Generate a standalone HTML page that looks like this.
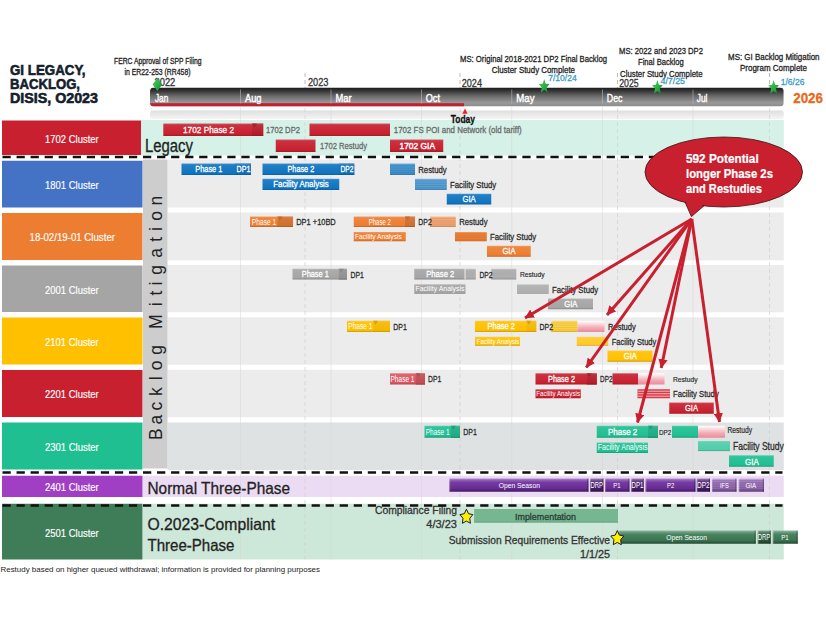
<!DOCTYPE html>
<html><head><meta charset="utf-8"><title>GI Legacy, Backlog, DISIS, O2023</title>
<style>
html,body{margin:0;padding:0;background:#fff;}
body{width:826px;height:620px;overflow:hidden;font-family:"Liberation Sans",sans-serif;}
svg{display:block;}
svg text{font-family:"Liberation Sans",sans-serif;}
</style></head><body>
<svg width="826" height="620" viewBox="0 0 826 620">
<defs>
<linearGradient id="sub" x1="0" y1="0" x2="0" y2="1"><stop offset="0" stop-color="#dedede"/><stop offset="1" stop-color="#f5f5f5"/></linearGradient>
<linearGradient id="tl" x1="0" y1="0" x2="0" y2="1"><stop offset="0" stop-color="#1a1a1a"/><stop offset="0.15" stop-color="#303030"/><stop offset="0.45" stop-color="#6a6a6a"/><stop offset="0.8" stop-color="#989898"/><stop offset="1" stop-color="#8c8c8c"/></linearGradient>
<clipPath id="tlc"><rect x="150" y="87.5" width="633.75" height="19" rx="4"/></clipPath>
<linearGradient id="gs" x1="0" y1="0" x2="1" y2="1"><stop offset="0" stop-color="#4fd45e"/><stop offset="1" stop-color="#0f8c30"/></linearGradient>
<linearGradient id="pink" x1="0" y1="0" x2="0" y2="1"><stop offset="0" stop-color="#ffffff"/><stop offset="0.25" stop-color="#fbdde1"/><stop offset="0.6" stop-color="#f3adb7"/><stop offset="1" stop-color="#ea8a9a"/></linearGradient>
<linearGradient id="g1" x1="0" y1="0" x2="0" y2="1"><stop offset="0" stop-color="#d65a65"/><stop offset="0.12" stop-color="#cc313f"/><stop offset="0.85" stop-color="#c8202f"/><stop offset="1" stop-color="#a01a26"/></linearGradient>
<linearGradient id="g2" x1="0" y1="0" x2="0" y2="1"><stop offset="0" stop-color="#c85861"/><stop offset="0.12" stop-color="#ba2f3b"/><stop offset="0.85" stop-color="#b41d2a"/><stop offset="1" stop-color="#901722"/></linearGradient>
<linearGradient id="g3" x1="0" y1="0" x2="0" y2="1"><stop offset="0" stop-color="#4d98d0"/><stop offset="0.12" stop-color="#227fc5"/><stop offset="0.85" stop-color="#0f74c0"/><stop offset="1" stop-color="#0c5d9a"/></linearGradient>
<linearGradient id="g4" x1="0" y1="0" x2="0" y2="1"><stop offset="0" stop-color="#4d94c9"/><stop offset="0.12" stop-color="#2179bc"/><stop offset="0.85" stop-color="#0e6eb6"/><stop offset="1" stop-color="#0b5892"/></linearGradient>
<linearGradient id="g5" x1="0" y1="0" x2="0" y2="1"><stop offset="0" stop-color="#71adda"/><stop offset="0.12" stop-color="#4e99d1"/><stop offset="0.85" stop-color="#3f90cd"/><stop offset="1" stop-color="#3273a4"/></linearGradient>
<linearGradient id="g6" x1="0" y1="0" x2="0" y2="1"><stop offset="0" stop-color="#7fb5de"/><stop offset="0.12" stop-color="#5fa3d6"/><stop offset="0.85" stop-color="#529bd2"/><stop offset="1" stop-color="#427ca8"/></linearGradient>
<linearGradient id="g7" x1="0" y1="0" x2="0" y2="1"><stop offset="0" stop-color="#f29f67"/><stop offset="0.12" stop-color="#ee8741"/><stop offset="0.85" stop-color="#ed7d31"/><stop offset="1" stop-color="#be6427"/></linearGradient>
<linearGradient id="g8" x1="0" y1="0" x2="0" y2="1"><stop offset="0" stop-color="#dd9462"/><stop offset="0.12" stop-color="#d5793c"/><stop offset="0.85" stop-color="#d16e2b"/><stop offset="1" stop-color="#a75822"/></linearGradient>
<linearGradient id="g9" x1="0" y1="0" x2="0" y2="1"><stop offset="0" stop-color="#f5bc94"/><stop offset="0.12" stop-color="#f3ab7a"/><stop offset="0.85" stop-color="#f2a46f"/><stop offset="1" stop-color="#c28359"/></linearGradient>
<linearGradient id="g10" x1="0" y1="0" x2="0" y2="1"><stop offset="0" stop-color="#bcbcbc"/><stop offset="0.12" stop-color="#acacac"/><stop offset="0.85" stop-color="#a5a5a5"/><stop offset="1" stop-color="#848484"/></linearGradient>
<linearGradient id="g11" x1="0" y1="0" x2="0" y2="1"><stop offset="0" stop-color="#aeaeae"/><stop offset="0.12" stop-color="#9a9a9a"/><stop offset="0.85" stop-color="#919191"/><stop offset="1" stop-color="#747474"/></linearGradient>
<linearGradient id="g12" x1="0" y1="0" x2="0" y2="1"><stop offset="0" stop-color="#c6c6c6"/><stop offset="0.12" stop-color="#b8b8b8"/><stop offset="0.85" stop-color="#b2b2b2"/><stop offset="1" stop-color="#8e8e8e"/></linearGradient>
<linearGradient id="g13" x1="0" y1="0" x2="0" y2="1"><stop offset="0" stop-color="#cacaca"/><stop offset="0.12" stop-color="#bdbdbd"/><stop offset="0.85" stop-color="#b7b7b7"/><stop offset="1" stop-color="#929292"/></linearGradient>
<linearGradient id="g14" x1="0" y1="0" x2="0" y2="1"><stop offset="0" stop-color="#ffd042"/><stop offset="0.12" stop-color="#ffc514"/><stop offset="0.85" stop-color="#ffc000"/><stop offset="1" stop-color="#cc9a00"/></linearGradient>
<linearGradient id="g15" x1="0" y1="0" x2="0" y2="1"><stop offset="0" stop-color="#f8ca42"/><stop offset="0.12" stop-color="#f6be14"/><stop offset="0.85" stop-color="#f5b800"/><stop offset="1" stop-color="#c49300"/></linearGradient>
<linearGradient id="g16" x1="0" y1="0" x2="0" y2="1"><stop offset="0" stop-color="#ffdc72"/><stop offset="0.12" stop-color="#ffd44f"/><stop offset="0.85" stop-color="#ffd040"/><stop offset="1" stop-color="#cca633"/></linearGradient>
<linearGradient id="g17" x1="0" y1="0" x2="0" y2="1"><stop offset="0" stop-color="#ffd75e"/><stop offset="0.12" stop-color="#ffcd37"/><stop offset="0.85" stop-color="#ffc926"/><stop offset="1" stop-color="#cca11e"/></linearGradient>
<linearGradient id="g18" x1="0" y1="0" x2="0" y2="1"><stop offset="0" stop-color="#e58189"/><stop offset="0.12" stop-color="#df626c"/><stop offset="0.85" stop-color="#dc5560"/><stop offset="1" stop-color="#b0444d"/></linearGradient>
<linearGradient id="g19" x1="0" y1="0" x2="0" y2="1"><stop offset="0" stop-color="#d27a80"/><stop offset="0.12" stop-color="#c75961"/><stop offset="0.85" stop-color="#c24b54"/><stop offset="1" stop-color="#9b3c43"/></linearGradient>
<linearGradient id="g20" x1="0" y1="0" x2="0" y2="1"><stop offset="0" stop-color="#59d0ae"/><stop offset="0.12" stop-color="#30c49b"/><stop offset="0.85" stop-color="#1fbf92"/><stop offset="1" stop-color="#199975"/></linearGradient>
<linearGradient id="g21" x1="0" y1="0" x2="0" y2="1"><stop offset="0" stop-color="#57c2a3"/><stop offset="0.12" stop-color="#2eb28d"/><stop offset="0.85" stop-color="#1cac83"/><stop offset="1" stop-color="#168a69"/></linearGradient>
<linearGradient id="g22" x1="0" y1="0" x2="0" y2="1"><stop offset="0" stop-color="#7edac0"/><stop offset="0.12" stop-color="#5ed1b1"/><stop offset="0.85" stop-color="#50cdaa"/><stop offset="1" stop-color="#40a488"/></linearGradient>
<linearGradient id="g23" x1="0" y1="0" x2="0" y2="1"><stop offset="0" stop-color="#b08dcb"/><stop offset="0.14" stop-color="#8f5eb5"/><stop offset="0.3" stop-color="#773aa5"/><stop offset="0.75" stop-color="#672c93"/><stop offset="1" stop-color="#411c5d"/></linearGradient>
<linearGradient id="g24" x1="0" y1="0" x2="0" y2="1"><stop offset="0" stop-color="#9d84b2"/><stop offset="0.14" stop-color="#745092"/><stop offset="0.3" stop-color="#562a7a"/><stop offset="0.75" stop-color="#471d6a"/><stop offset="1" stop-color="#2d1243"/></linearGradient>
<linearGradient id="g25" x1="0" y1="0" x2="0" y2="1"><stop offset="0" stop-color="#c8afda"/><stop offset="0.14" stop-color="#b18ecb"/><stop offset="0.3" stop-color="#a075bf"/><stop offset="0.75" stop-color="#8f65ad"/><stop offset="1" stop-color="#5a406d"/></linearGradient>
<linearGradient id="g26" x1="0" y1="0" x2="0" y2="1"><stop offset="0" stop-color="#95b8a3"/><stop offset="0.14" stop-color="#699a7d"/><stop offset="0.3" stop-color="#498460"/><stop offset="0.75" stop-color="#3a7351"/><stop offset="1" stop-color="#254933"/></linearGradient>
<linearGradient id="g27" x1="0" y1="0" x2="0" y2="1"><stop offset="0" stop-color="#8da697"/><stop offset="0.14" stop-color="#5d816c"/><stop offset="0.3" stop-color="#39664b"/><stop offset="0.75" stop-color="#2b563d"/><stop offset="1" stop-color="#1b3726"/></linearGradient>
<marker id="ah" viewBox="0 0 10 10" refX="9.5" refY="5" markerWidth="3.1" markerHeight="3.1" orient="auto-start-reverse"><path d="M0 0 L10 5 L0 10 Z" fill="#c8202f"/></marker>
</defs>
<rect x="0.00" y="0.00" width="826.00" height="620.00" fill="#ffffff" />
<rect x="141.00" y="120.00" width="642.75" height="35.50" fill="#d5f1e8" />
<rect x="167.50" y="159.50" width="616.25" height="48.00" fill="#ececec" />
<rect x="167.50" y="212.50" width="616.25" height="47.80" fill="#ececec" />
<rect x="167.50" y="265.00" width="616.25" height="47.30" fill="#ececec" />
<rect x="167.50" y="317.30" width="616.25" height="47.40" fill="#ececec" />
<rect x="167.50" y="369.80" width="616.25" height="47.40" fill="#ececec" />
<rect x="167.50" y="422.50" width="616.25" height="47.50" fill="#dfe2e2" />
<rect x="143.00" y="159.50" width="24.50" height="309.00" fill="#cdcdcd" />
<rect x="143.00" y="475.75" width="640.75" height="21.25" fill="#ecdcf3" />
<rect x="143.00" y="503.75" width="640.75" height="55.75" fill="#cde7d8" />
<rect x="150" y="110.5" width="633.75" height="8.5" rx="3" fill="url(#sub)"/>
<line x1="240.5" y1="107" x2="240.5" y2="559.5" stroke="#d6d6d6" stroke-width="0.8" opacity="0.6"/>
<line x1="331" y1="107" x2="331" y2="559.5" stroke="#d6d6d6" stroke-width="0.8" opacity="0.6"/>
<line x1="421.5" y1="107" x2="421.5" y2="559.5" stroke="#d6d6d6" stroke-width="0.8" opacity="0.6"/>
<line x1="511.75" y1="107" x2="511.75" y2="559.5" stroke="#d6d6d6" stroke-width="0.8" opacity="0.6"/>
<line x1="602.5" y1="107" x2="602.5" y2="559.5" stroke="#d6d6d6" stroke-width="0.8" opacity="0.6"/>
<line x1="693" y1="107" x2="693" y2="559.5" stroke="#d6d6d6" stroke-width="0.8" opacity="0.6"/>
<line x1="305" y1="108" x2="305" y2="559.5" stroke="#cdcdcd" stroke-width="0.9" stroke-dasharray="4 3" opacity="0.7"/>
<line x1="305" y1="73" x2="305" y2="88" stroke="#b4b4b4" stroke-width="0.9" stroke-dasharray="4 3"/>
<line x1="460" y1="108" x2="460" y2="559.5" stroke="#cdcdcd" stroke-width="0.9" stroke-dasharray="4 3" opacity="0.7"/>
<line x1="460" y1="73" x2="460" y2="88" stroke="#b4b4b4" stroke-width="0.9" stroke-dasharray="4 3"/>
<line x1="617.5" y1="108" x2="617.5" y2="559.5" stroke="#cdcdcd" stroke-width="0.9" stroke-dasharray="4 3" opacity="0.7"/>
<line x1="617.5" y1="73" x2="617.5" y2="88" stroke="#b4b4b4" stroke-width="0.9" stroke-dasharray="4 3"/>
<line x1="769.5" y1="108" x2="769.5" y2="559.5" stroke="#cdcdcd" stroke-width="0.9" stroke-dasharray="4 3" opacity="0.7"/>
<line x1="769.5" y1="73" x2="769.5" y2="88" stroke="#b4b4b4" stroke-width="0.9" stroke-dasharray="4 3"/>
<g clip-path="url(#tlc)">
<rect x="150.00" y="87.50" width="633.75" height="19.00" fill="url(#tl)" />
<rect x="150.00" y="103.20" width="314.00" height="3.30" fill="#c3202f" />
<line x1="240.5" y1="89.5" x2="240.5" y2="103.5" stroke="#bfbfbf" stroke-width="0.8" opacity="0.7"/>
<line x1="331" y1="89.5" x2="331" y2="103.5" stroke="#bfbfbf" stroke-width="0.8" opacity="0.7"/>
<line x1="421.5" y1="89.5" x2="421.5" y2="103.5" stroke="#bfbfbf" stroke-width="0.8" opacity="0.7"/>
<line x1="511.75" y1="89.5" x2="511.75" y2="103.5" stroke="#bfbfbf" stroke-width="0.8" opacity="0.7"/>
<line x1="602.5" y1="89.5" x2="602.5" y2="103.5" stroke="#bfbfbf" stroke-width="0.8" opacity="0.7"/>
<line x1="693" y1="89.5" x2="693" y2="103.5" stroke="#bfbfbf" stroke-width="0.8" opacity="0.7"/>
</g>
<text x="155.00" y="101.50" font-size="10.5" fill="#ffffff" font-weight="normal" textLength="13.30" lengthAdjust="spacingAndGlyphs" stroke="#ffffff" stroke-width="0.4" >Jan</text>
<text x="245.00" y="101.50" font-size="10.5" fill="#ffffff" font-weight="normal" textLength="16.50" lengthAdjust="spacingAndGlyphs" stroke="#ffffff" stroke-width="0.4" >Aug</text>
<text x="335.50" y="101.50" font-size="10.5" fill="#ffffff" font-weight="normal" textLength="16.00" lengthAdjust="spacingAndGlyphs" stroke="#ffffff" stroke-width="0.4" >Mar</text>
<text x="425.75" y="101.50" font-size="10.5" fill="#ffffff" font-weight="normal" textLength="14.25" lengthAdjust="spacingAndGlyphs" stroke="#ffffff" stroke-width="0.4" >Oct</text>
<text x="516.25" y="101.50" font-size="10.5" fill="#ffffff" font-weight="normal" textLength="18.25" lengthAdjust="spacingAndGlyphs" stroke="#ffffff" stroke-width="0.4" >May</text>
<text x="606.75" y="101.50" font-size="10.5" fill="#ffffff" font-weight="normal" textLength="15.75" lengthAdjust="spacingAndGlyphs" stroke="#ffffff" stroke-width="0.4" >Dec</text>
<text x="696.75" y="101.50" font-size="10.5" fill="#ffffff" font-weight="normal" textLength="10.75" lengthAdjust="spacingAndGlyphs" stroke="#ffffff" stroke-width="0.4" >Jul</text>
<text x="154.50" y="86.40" font-size="10.6" fill="#333" font-weight="normal" textLength="20.80" lengthAdjust="spacingAndGlyphs" stroke="#333" stroke-width="0.3" >2022</text>
<text x="308.00" y="86.40" font-size="10.6" fill="#333" font-weight="normal" textLength="20.50" lengthAdjust="spacingAndGlyphs" stroke="#333" stroke-width="0.3" >2023</text>
<text x="461.75" y="86.70" font-size="10.6" fill="#333" font-weight="normal" textLength="20.25" lengthAdjust="spacingAndGlyphs" stroke="#333" stroke-width="0.3" >2024</text>
<text x="619.25" y="86.70" font-size="10.6" fill="#333" font-weight="normal" textLength="19.50" lengthAdjust="spacingAndGlyphs" stroke="#333" stroke-width="0.3" >2025</text>
<text x="793.25" y="103.00" font-size="15" fill="#e8681c" font-weight="bold" textLength="29.75" lengthAdjust="spacingAndGlyphs" stroke="#e8681c" stroke-width="0.3" >2026</text>
<path d="M465 108.6 L467.6 113.8 L462.4 113.8 Z" fill="#e8202a"/>
<text x="450.75" y="122.80" font-size="10" fill="#111" font-weight="bold" textLength="24.25" lengthAdjust="spacingAndGlyphs" stroke="#111" stroke-width="0.3" >Today</text>
<text x="114.00" y="64.10" font-size="8.6" fill="#222" font-weight="normal" textLength="87.50" lengthAdjust="spacingAndGlyphs" stroke="#222" stroke-width="0.3" >FERC Approval of SPP Filing</text>
<text x="124.50" y="74.90" font-size="8.6" fill="#222" font-weight="normal" textLength="66.00" lengthAdjust="spacingAndGlyphs" stroke="#222" stroke-width="0.3" >in ER22-253 (RR458)</text>
<text x="460.00" y="62.17" font-size="9.5" fill="#222" font-weight="normal" textLength="147.00" lengthAdjust="spacingAndGlyphs" stroke="#222" stroke-width="0.3" >MS: Original 2018-2021 DP2 Final Backlog</text>
<text x="491.75" y="73.42" font-size="9.5" fill="#222" font-weight="normal" textLength="83.25" lengthAdjust="spacingAndGlyphs" stroke="#222" stroke-width="0.3" >Cluster Study Complete</text>
<text x="548.25" y="81.42" font-size="9.5" fill="#3a9cc4" font-weight="normal" textLength="28.50" lengthAdjust="spacingAndGlyphs" stroke="#3a9cc4" stroke-width="0.3" >7/10/24</text>
<text x="619.00" y="54.42" font-size="9.5" fill="#222" font-weight="normal" textLength="84.00" lengthAdjust="spacingAndGlyphs" stroke="#222" stroke-width="0.3" >MS: 2022 and 2023 DP2</text>
<text x="638.00" y="65.17" font-size="9.5" fill="#222" font-weight="normal" textLength="45.75" lengthAdjust="spacingAndGlyphs" stroke="#222" stroke-width="0.3" >Final Backlog</text>
<text x="620.00" y="77.42" font-size="9.5" fill="#222" font-weight="normal" textLength="82.50" lengthAdjust="spacingAndGlyphs" stroke="#222" stroke-width="0.3" >Cluster Study Complete</text>
<text x="660.50" y="84.42" font-size="9.5" fill="#3a9cc4" font-weight="normal" textLength="24.50" lengthAdjust="spacingAndGlyphs" stroke="#3a9cc4" stroke-width="0.3" >4/7/25</text>
<text x="728.00" y="60.17" font-size="9.5" fill="#222" font-weight="normal" textLength="91.50" lengthAdjust="spacingAndGlyphs" stroke="#222" stroke-width="0.3" >MS: GI Backlog Mitigation</text>
<text x="740.00" y="71.42" font-size="9.5" fill="#222" font-weight="normal" textLength="67.00" lengthAdjust="spacingAndGlyphs" stroke="#222" stroke-width="0.3" >Program Complete</text>
<text x="780.75" y="85.17" font-size="9.5" fill="#3a9cc4" font-weight="normal" textLength="23.75" lengthAdjust="spacingAndGlyphs" stroke="#3a9cc4" stroke-width="0.3" >1/6/26</text>
<polygon points="544.20,78.90 545.70,83.68 549.60,84.09 546.63,87.46 547.54,92.50 544.20,89.80 540.86,92.50 541.77,87.46 538.80,84.09 542.70,83.68" fill="url(#gs)" />
<polygon points="657.40,80.00 658.90,84.78 662.80,85.19 659.83,88.56 660.74,93.60 657.40,90.90 654.06,93.60 654.97,88.56 652.00,85.19 655.90,84.78" fill="url(#gs)" />
<polygon points="773.60,80.00 775.10,84.78 779.00,85.19 776.03,88.56 776.94,93.60 773.60,90.90 770.26,93.60 771.17,88.56 768.20,85.19 772.10,84.78" fill="url(#gs)" />
<path d="M157.4 78 L162.2 84.5 L157.4 91 L152.6 84.5 Z" fill="url(#gs)"/>
<text x="10.00" y="75.00" font-size="15" fill="#13202b" font-weight="bold" textLength="75.50" lengthAdjust="spacingAndGlyphs" stroke="#13202b" stroke-width="0.6" >GI LEGACY,</text>
<text x="10.00" y="89.00" font-size="15" fill="#13202b" font-weight="bold" textLength="70.00" lengthAdjust="spacingAndGlyphs" stroke="#13202b" stroke-width="0.6" >BACKLOG,</text>
<text x="10.00" y="102.70" font-size="15" fill="#13202b" font-weight="bold" textLength="88.00" lengthAdjust="spacingAndGlyphs" stroke="#13202b" stroke-width="0.6" >DISIS, O2023</text>
<rect x="2.00" y="120.50" width="139.00" height="34.50" fill="#c8202f" />
<text x="45.00" y="142.65" font-size="10.3" fill="#ffffff" font-weight="normal" textLength="53.75" lengthAdjust="spacingAndGlyphs" stroke="#ffffff" stroke-width="0.15" >1702 Cluster</text>
<rect x="2.00" y="160.75" width="140.50" height="46.75" fill="#4472c4" />
<text x="45.00" y="189.03" font-size="10.3" fill="#ffffff" font-weight="normal" textLength="53.75" lengthAdjust="spacingAndGlyphs" stroke="#ffffff" stroke-width="0.15" >1801 Cluster</text>
<rect x="2.00" y="213.00" width="140.50" height="47.00" fill="#ed7d31" />
<text x="29.50" y="241.40" font-size="10.3" fill="#ffffff" font-weight="normal" textLength="85.50" lengthAdjust="spacingAndGlyphs" stroke="#ffffff" stroke-width="0.15" >18-02/19-01 Cluster</text>
<rect x="2.00" y="265.50" width="140.50" height="46.50" fill="#a5a5a5" />
<text x="45.00" y="293.65" font-size="10.3" fill="#ffffff" font-weight="normal" textLength="53.75" lengthAdjust="spacingAndGlyphs" stroke="#ffffff" stroke-width="0.15" >2001 Cluster</text>
<rect x="2.00" y="317.50" width="140.50" height="47.00" fill="#ffc000" />
<text x="45.00" y="345.90" font-size="10.3" fill="#ffffff" font-weight="normal" textLength="53.75" lengthAdjust="spacingAndGlyphs" stroke="#ffffff" stroke-width="0.15" >2101 Cluster</text>
<rect x="2.00" y="370.00" width="140.50" height="47.00" fill="#c8202f" />
<text x="45.00" y="398.40" font-size="10.3" fill="#ffffff" font-weight="normal" textLength="53.75" lengthAdjust="spacingAndGlyphs" stroke="#ffffff" stroke-width="0.15" >2201 Cluster</text>
<rect x="2.00" y="422.50" width="140.50" height="47.00" fill="#1fbf92" />
<text x="45.00" y="450.90" font-size="10.3" fill="#ffffff" font-weight="normal" textLength="53.75" lengthAdjust="spacingAndGlyphs" stroke="#ffffff" stroke-width="0.15" >2301 Cluster</text>
<rect x="2.00" y="475.75" width="140.50" height="21.25" fill="#a03fc4" />
<text x="45.00" y="491.27" font-size="10.3" fill="#ffffff" font-weight="normal" textLength="53.75" lengthAdjust="spacingAndGlyphs" stroke="#ffffff" stroke-width="0.15" >2401 Cluster</text>
<rect x="2.00" y="503.75" width="140.50" height="55.75" fill="#3f7d58" />
<text x="45.00" y="536.52" font-size="10.3" fill="#ffffff" font-weight="normal" textLength="53.75" lengthAdjust="spacingAndGlyphs" stroke="#ffffff" stroke-width="0.15" >2501 Cluster</text>
<text x="145.00" y="152.00" font-size="17.5" fill="#222" font-weight="normal" textLength="48.00" lengthAdjust="spacingAndGlyphs" stroke="#222" stroke-width="0.3" >Legacy</text>
<text x="147.50" y="493.75" font-size="16.5" fill="#222" font-weight="normal" textLength="142.50" lengthAdjust="spacingAndGlyphs" stroke="#222" stroke-width="0.3" >Normal Three-Phase</text>
<text x="147.50" y="530.00" font-size="16.5" fill="#222" font-weight="normal" textLength="127.50" lengthAdjust="spacingAndGlyphs" stroke="#222" stroke-width="0.3" >O.2023-Compliant</text>
<text x="147.50" y="550.75" font-size="16.5" fill="#222" font-weight="normal" textLength="87.00" lengthAdjust="spacingAndGlyphs" stroke="#222" stroke-width="0.3" >Three-Phase</text>
<text transform="translate(162,0) rotate(-90)" font-size="17.5" fill="#222" x="-440.04 -424.56 -410.38 -395.88 -380.34 -370.26 -354.87 -329.09 -306.34 -295.43 -285.44 -274.87 -257.87 -241.83 -230.94 -220.87 -205.56" y="0">BacklogMitigation</text>
<rect x="163.30" y="123.50" width="99.90" height="12.50" fill="url(#g1)" />
<rect x="252.00" y="123.50" width="11.20" height="12.50" fill="url(#g2)" />
<path d="M252.00 123.50 L257.00 123.50 L254.50 127.50 Z" fill="#9c1925" opacity="0.7"/>
<text x="183.00" y="133.22" font-size="9.5" fill="#ffffff" font-weight="normal" textLength="51.00" lengthAdjust="spacingAndGlyphs" stroke="#ffffff" stroke-width="0.3" >1702 Phase 2</text>
<rect x="309.50" y="123.50" width="80.50" height="12.50" fill="url(#g1)" />
<rect x="275.75" y="139.50" width="39.75" height="12.50" fill="url(#g1)" />
<rect x="390.00" y="139.50" width="53.25" height="12.50" fill="url(#g1)" />
<text x="399.50" y="149.40" font-size="9.6" fill="#fff" font-weight="normal" textLength="35.50" lengthAdjust="spacingAndGlyphs" stroke="#fff" stroke-width="0.45" >1702 GIA</text>
<rect x="181.50" y="163.50" width="69.50" height="11.50" fill="url(#g3)" />
<rect x="235.00" y="163.50" width="16.00" height="11.50" fill="url(#g4)" />
<text x="195.30" y="172.24" font-size="9" fill="#ffffff" font-weight="normal" textLength="27.00" lengthAdjust="spacingAndGlyphs" stroke="#ffffff" stroke-width="0.3" >Phase 1</text>
<text x="236.60" y="172.24" font-size="9" fill="#ffffff" font-weight="normal" textLength="13.90" lengthAdjust="spacingAndGlyphs" stroke="#ffffff" stroke-width="0.3" >DP1</text>
<rect x="262.50" y="163.50" width="91.75" height="11.50" fill="url(#g3)" />
<rect x="339.00" y="163.50" width="15.25" height="11.50" fill="url(#g4)" />
<text x="287.50" y="172.24" font-size="9" fill="#ffffff" font-weight="normal" textLength="26.75" lengthAdjust="spacingAndGlyphs" stroke="#ffffff" stroke-width="0.3" >Phase 2</text>
<text x="340.50" y="172.24" font-size="9" fill="#ffffff" font-weight="normal" textLength="13.00" lengthAdjust="spacingAndGlyphs" stroke="#ffffff" stroke-width="0.3" >DP2</text>
<rect x="262.50" y="178.75" width="76.75" height="11.25" fill="url(#g3)" />
<text x="273.25" y="187.24" font-size="9" fill="#ffffff" font-weight="normal" textLength="55.50" lengthAdjust="spacingAndGlyphs" stroke="#ffffff" stroke-width="0.3" >Facility Analysis</text>
<rect x="390.00" y="163.50" width="25.00" height="11.50" fill="url(#g5)" />
<line x1="390.00" y1="165.80" x2="415.00" y2="165.80" stroke="#377fb4" stroke-width="0.7" opacity="0.8"/>
<line x1="390.00" y1="168.10" x2="415.00" y2="168.10" stroke="#377fb4" stroke-width="0.7" opacity="0.8"/>
<line x1="390.00" y1="170.40" x2="415.00" y2="170.40" stroke="#377fb4" stroke-width="0.7" opacity="0.8"/>
<line x1="390.00" y1="172.70" x2="415.00" y2="172.70" stroke="#377fb4" stroke-width="0.7" opacity="0.8"/>
<rect x="415.00" y="178.75" width="31.75" height="11.25" fill="url(#g6)" />
<line x1="415.00" y1="181.00" x2="446.75" y2="181.00" stroke="#4888b9" stroke-width="0.7" opacity="0.8"/>
<line x1="415.00" y1="183.25" x2="446.75" y2="183.25" stroke="#4888b9" stroke-width="0.7" opacity="0.8"/>
<line x1="415.00" y1="185.50" x2="446.75" y2="185.50" stroke="#4888b9" stroke-width="0.7" opacity="0.8"/>
<line x1="415.00" y1="187.75" x2="446.75" y2="187.75" stroke="#4888b9" stroke-width="0.7" opacity="0.8"/>
<rect x="446.75" y="193.75" width="44.50" height="10.75" fill="url(#g3)" />
<text x="462.50" y="202.04" font-size="9" fill="#ffffff" font-weight="normal" textLength="13.25" lengthAdjust="spacingAndGlyphs" stroke="#ffffff" stroke-width="0.3" >GIA</text>
<rect x="250.00" y="216.50" width="43.00" height="10.50" fill="url(#g7)" />
<rect x="277.50" y="216.50" width="15.50" height="10.50" fill="url(#g8)" />
<path d="M277.50 216.50 L282.50 216.50 L280.00 220.50 Z" fill="#b96226" opacity="0.7"/>
<text x="251.75" y="224.56" font-size="8.5" fill="#ffffff" font-weight="normal" textLength="24.50" lengthAdjust="spacingAndGlyphs"  >Phase 1</text>
<rect x="353.75" y="216.50" width="61.25" height="10.50" fill="url(#g7)" />
<rect x="405.00" y="216.50" width="10.00" height="10.50" fill="url(#g8)" />
<path d="M405.00 216.50 L410.00 216.50 L407.50 220.50 Z" fill="#b96226" opacity="0.7"/>
<text x="368.75" y="224.56" font-size="8.5" fill="#ffffff" font-weight="normal" textLength="22.00" lengthAdjust="spacingAndGlyphs"  >Phase 2</text>
<rect x="430.00" y="216.50" width="25.75" height="10.50" fill="url(#g9)" />
<line x1="430.00" y1="218.60" x2="455.75" y2="218.60" stroke="#d59062" stroke-width="0.7" opacity="0.8"/>
<line x1="430.00" y1="220.70" x2="455.75" y2="220.70" stroke="#d59062" stroke-width="0.7" opacity="0.8"/>
<line x1="430.00" y1="222.80" x2="455.75" y2="222.80" stroke="#d59062" stroke-width="0.7" opacity="0.8"/>
<line x1="430.00" y1="224.90" x2="455.75" y2="224.90" stroke="#d59062" stroke-width="0.7" opacity="0.8"/>
<rect x="353.75" y="232.00" width="52.00" height="9.25" fill="url(#g7)" />
<text x="355.00" y="239.00" font-size="7.5" fill="#ffffff" font-weight="normal" textLength="46.75" lengthAdjust="spacingAndGlyphs"  >Facility Analysis</text>
<rect x="455.00" y="232.00" width="31.75" height="9.25" fill="url(#g7)" />
<line x1="455.00" y1="233.85" x2="486.75" y2="233.85" stroke="#d16e2b" stroke-width="0.7" opacity="0.8"/>
<line x1="455.00" y1="235.70" x2="486.75" y2="235.70" stroke="#d16e2b" stroke-width="0.7" opacity="0.8"/>
<line x1="455.00" y1="237.55" x2="486.75" y2="237.55" stroke="#d16e2b" stroke-width="0.7" opacity="0.8"/>
<line x1="455.00" y1="239.40" x2="486.75" y2="239.40" stroke="#d16e2b" stroke-width="0.7" opacity="0.8"/>
<rect x="487.00" y="245.75" width="43.75" height="11.00" fill="url(#g7)" />
<text x="502.50" y="254.14" font-size="9" fill="#ffffff" font-weight="normal" textLength="13.00" lengthAdjust="spacingAndGlyphs" stroke="#ffffff" stroke-width="0.3" >GIA</text>
<rect x="292.50" y="268.75" width="54.50" height="10.75" fill="url(#g10)" />
<rect x="338.75" y="268.75" width="8.25" height="10.75" fill="url(#g11)" />
<path d="M338.75 268.75 L343.75 268.75 L341.25 272.75 Z" fill="#818181" opacity="0.7"/>
<text x="301.75" y="277.04" font-size="9" fill="#ffffff" font-weight="normal" textLength="27.00" lengthAdjust="spacingAndGlyphs" stroke="#ffffff" stroke-width="0.3" >Phase 1</text>
<rect x="414.25" y="268.75" width="50.75" height="10.75" fill="url(#g10)" />
<rect x="465.00" y="268.75" width="10.75" height="10.75" fill="url(#g12)" />
<line x1="465.00" y1="270.90" x2="475.75" y2="270.90" stroke="#9d9d9d" stroke-width="0.7" opacity="0.8"/>
<line x1="465.00" y1="273.05" x2="475.75" y2="273.05" stroke="#9d9d9d" stroke-width="0.7" opacity="0.8"/>
<line x1="465.00" y1="275.20" x2="475.75" y2="275.20" stroke="#9d9d9d" stroke-width="0.7" opacity="0.8"/>
<line x1="465.00" y1="277.35" x2="475.75" y2="277.35" stroke="#9d9d9d" stroke-width="0.7" opacity="0.8"/>
<line x1="465" y1="268.75" x2="465" y2="279.5" stroke="#fff" stroke-width="0.8"/>
<text x="426.25" y="277.04" font-size="9" fill="#ffffff" font-weight="normal" textLength="28.00" lengthAdjust="spacingAndGlyphs" stroke="#ffffff" stroke-width="0.3" >Phase 2</text>
<rect x="491.25" y="268.75" width="25.00" height="10.75" fill="url(#g12)" />
<line x1="491.25" y1="270.90" x2="516.25" y2="270.90" stroke="#9d9d9d" stroke-width="0.7" opacity="0.8"/>
<line x1="491.25" y1="273.05" x2="516.25" y2="273.05" stroke="#9d9d9d" stroke-width="0.7" opacity="0.8"/>
<line x1="491.25" y1="275.20" x2="516.25" y2="275.20" stroke="#9d9d9d" stroke-width="0.7" opacity="0.8"/>
<line x1="491.25" y1="277.35" x2="516.25" y2="277.35" stroke="#9d9d9d" stroke-width="0.7" opacity="0.8"/>
<rect x="414.25" y="284.25" width="51.25" height="9.50" fill="url(#g10)" />
<text x="415.50" y="291.48" font-size="8" fill="#ffffff" font-weight="normal" textLength="49.00" lengthAdjust="spacingAndGlyphs"  >Facility Analysis</text>
<rect x="517.00" y="284.25" width="31.75" height="9.50" fill="url(#g13)" />
<line x1="517.00" y1="286.15" x2="548.75" y2="286.15" stroke="#a1a1a1" stroke-width="0.7" opacity="0.8"/>
<line x1="517.00" y1="288.05" x2="548.75" y2="288.05" stroke="#a1a1a1" stroke-width="0.7" opacity="0.8"/>
<line x1="517.00" y1="289.95" x2="548.75" y2="289.95" stroke="#a1a1a1" stroke-width="0.7" opacity="0.8"/>
<line x1="517.00" y1="291.85" x2="548.75" y2="291.85" stroke="#a1a1a1" stroke-width="0.7" opacity="0.8"/>
<rect x="548.00" y="298.50" width="45.00" height="10.75" fill="url(#g10)" />
<text x="564.25" y="306.74" font-size="9" fill="#ffffff" font-weight="normal" textLength="13.25" lengthAdjust="spacingAndGlyphs" stroke="#ffffff" stroke-width="0.3" >GIA</text>
<rect x="347.00" y="320.75" width="43.00" height="11.25" fill="url(#g14)" />
<rect x="373.00" y="320.75" width="17.00" height="11.25" fill="url(#g15)" />
<path d="M373.00 320.75 L378.00 320.75 L375.50 324.75 Z" fill="#c79600" opacity="0.7"/>
<text x="348.25" y="329.06" font-size="8.5" fill="#ffffff" font-weight="normal" textLength="24.25" lengthAdjust="spacingAndGlyphs"  >Phase 1</text>
<rect x="475.00" y="320.75" width="61.25" height="11.25" fill="url(#g14)" />
<rect x="526.25" y="320.75" width="10.00" height="11.25" fill="url(#g15)" />
<path d="M526.25 320.75 L531.25 320.75 L528.75 324.75 Z" fill="#c79600" opacity="0.7"/>
<text x="487.50" y="329.24" font-size="9" fill="#ffffff" font-weight="normal" textLength="27.50" lengthAdjust="spacingAndGlyphs" stroke="#ffffff" stroke-width="0.3" >Phase 2</text>
<rect x="551.25" y="320.75" width="26.25" height="11.25" fill="url(#g16)" />
<line x1="551.25" y1="323.00" x2="577.50" y2="323.00" stroke="#e0b738" stroke-width="0.7" opacity="0.8"/>
<line x1="551.25" y1="325.25" x2="577.50" y2="325.25" stroke="#e0b738" stroke-width="0.7" opacity="0.8"/>
<line x1="551.25" y1="327.50" x2="577.50" y2="327.50" stroke="#e0b738" stroke-width="0.7" opacity="0.8"/>
<line x1="551.25" y1="329.75" x2="577.50" y2="329.75" stroke="#e0b738" stroke-width="0.7" opacity="0.8"/>
<rect x="577.50" y="320.75" width="27.00" height="11.25" fill="url(#pink)" />
<rect x="475.00" y="336.75" width="45.00" height="9.00" fill="url(#g14)" />
<text x="476.75" y="343.50" font-size="7.5" fill="#ffffff" font-weight="normal" textLength="42.50" lengthAdjust="spacingAndGlyphs"  >Facility Analysis</text>
<rect x="576.75" y="336.75" width="31.50" height="9.00" fill="url(#g17)" />
<rect x="607.50" y="350.50" width="45.00" height="11.25" fill="url(#g14)" />
<text x="623.75" y="358.94" font-size="9" fill="#ffffff" font-weight="normal" textLength="13.25" lengthAdjust="spacingAndGlyphs" stroke="#ffffff" stroke-width="0.3" >GIA</text>
<rect x="390.00" y="373.25" width="35.00" height="11.25" fill="url(#g18)" />
<rect x="415.75" y="373.25" width="9.25" height="11.25" fill="url(#g19)" />
<path d="M415.75 373.25 L420.75 373.25 L418.25 377.25 Z" fill="#ac424b" opacity="0.7"/>
<text x="390.50" y="381.56" font-size="8.5" fill="#ffffff" font-weight="normal" textLength="24.00" lengthAdjust="spacingAndGlyphs"  >Phase 1</text>
<rect x="535.50" y="373.25" width="61.25" height="11.25" fill="url(#g1)" />
<rect x="586.75" y="373.25" width="10.00" height="11.25" fill="url(#g2)" />
<path d="M586.75 373.25 L591.75 373.25 L589.25 377.25 Z" fill="#9c1925" opacity="0.7"/>
<text x="548.00" y="381.74" font-size="9" fill="#ffffff" font-weight="normal" textLength="27.00" lengthAdjust="spacingAndGlyphs" stroke="#ffffff" stroke-width="0.3" >Phase 2</text>
<rect x="612.50" y="373.25" width="25.50" height="11.25" fill="url(#g1)" />
<rect x="638.00" y="373.25" width="26.50" height="11.25" fill="url(#pink)" />
<rect x="535.50" y="389.25" width="45.25" height="9.00" fill="url(#g1)" />
<text x="536.25" y="396.00" font-size="7.5" fill="#ffffff" font-weight="normal" textLength="43.75" lengthAdjust="spacingAndGlyphs"  >Facility Analysis</text>
<rect x="637.50" y="389.25" width="32.50" height="9.00" fill="#d93a48" />
<line x1="637.5" y1="391.2" x2="670" y2="391.2" stroke="#f6c4ca" stroke-width="0.9"/>
<line x1="637.5" y1="393.7" x2="670" y2="393.7" stroke="#f6c4ca" stroke-width="0.9"/>
<line x1="637.5" y1="396.2" x2="670" y2="396.2" stroke="#f6c4ca" stroke-width="0.9"/>
<rect x="669.25" y="402.50" width="44.50" height="11.25" fill="url(#g1)" />
<text x="685.00" y="410.94" font-size="9" fill="#ffffff" font-weight="normal" textLength="13.00" lengthAdjust="spacingAndGlyphs" stroke="#ffffff" stroke-width="0.3" >GIA</text>
<rect x="424.50" y="425.75" width="35.50" height="12.00" fill="url(#g20)" />
<rect x="450.75" y="425.75" width="9.25" height="12.00" fill="url(#g21)" />
<path d="M450.75 425.75 L455.75 425.75 L453.25 429.75 Z" fill="#189572" opacity="0.7"/>
<text x="425.75" y="435.16" font-size="8.5" fill="#ffffff" font-weight="normal" textLength="23.75" lengthAdjust="spacingAndGlyphs"  >Phase 1</text>
<rect x="596.75" y="425.75" width="61.25" height="12.00" fill="url(#g20)" />
<rect x="648.00" y="425.75" width="10.00" height="12.00" fill="url(#g21)" />
<path d="M648.00 425.75 L653.00 425.75 L650.50 429.75 Z" fill="#189572" opacity="0.7"/>
<text x="608.00" y="434.52" font-size="9.5" fill="#ffffff" font-weight="normal" textLength="29.30" lengthAdjust="spacingAndGlyphs" stroke="#ffffff" stroke-width="0.3" >Phase 2</text>
<rect x="672.00" y="425.75" width="26.00" height="12.00" fill="url(#g20)" />
<rect x="698.00" y="425.75" width="27.00" height="12.00" fill="url(#pink)" />
<rect x="596.75" y="442.50" width="51.25" height="10.50" fill="url(#g20)" />
<text x="597.70" y="450.26" font-size="8.5" fill="#ffffff" font-weight="normal" textLength="49.80" lengthAdjust="spacingAndGlyphs"  >Facility Analysis</text>
<rect x="698.00" y="441.00" width="32.00" height="10.10" fill="url(#g22)" />
<rect x="729.00" y="455.25" width="44.75" height="11.50" fill="url(#g20)" />
<text x="745.00" y="464.85" font-size="9.3" fill="#ffffff" font-weight="normal" textLength="13.75" lengthAdjust="spacingAndGlyphs" stroke="#ffffff" stroke-width="0.3" >GIA</text>
<rect x="449.25" y="478.50" width="139.25" height="13.25" fill="url(#g23)" />
<rect x="449.25" y="478.50" width="1" height="13.25" fill="#fff" opacity="0.25"/>
<rect x="587.30" y="478.50" width="1.2" height="13.25" fill="#000" opacity="0.3"/>
<text x="498.75" y="487.50" font-size="7.5" fill="#ffffff" font-weight="normal" textLength="41.25" lengthAdjust="spacingAndGlyphs"  >Open Season</text>
<rect x="590.00" y="478.50" width="13.50" height="13.25" fill="url(#g24)" />
<rect x="590.00" y="478.50" width="1" height="13.25" fill="#fff" opacity="0.25"/>
<rect x="602.30" y="478.50" width="1.2" height="13.25" fill="#000" opacity="0.3"/>
<text x="590.50" y="487.86" font-size="8.5" fill="#ffffff" font-weight="normal" textLength="12.50" lengthAdjust="spacingAndGlyphs"  >DRP</text>
<rect x="605.00" y="478.50" width="24.50" height="13.25" fill="url(#g23)" />
<rect x="605.00" y="478.50" width="1" height="13.25" fill="#fff" opacity="0.25"/>
<rect x="628.30" y="478.50" width="1.2" height="13.25" fill="#000" opacity="0.3"/>
<text x="613.25" y="487.50" font-size="7.5" fill="#ffffff" font-weight="normal" textLength="7.25" lengthAdjust="spacingAndGlyphs"  >P1</text>
<rect x="631.25" y="478.50" width="12.50" height="13.25" fill="url(#g24)" />
<rect x="631.25" y="478.50" width="1" height="13.25" fill="#fff" opacity="0.25"/>
<rect x="642.55" y="478.50" width="1.2" height="13.25" fill="#000" opacity="0.3"/>
<text x="631.50" y="487.86" font-size="8.5" fill="#ffffff" font-weight="normal" textLength="12.00" lengthAdjust="spacingAndGlyphs"  >DP1</text>
<rect x="645.50" y="478.50" width="50.00" height="13.25" fill="url(#g23)" />
<rect x="645.50" y="478.50" width="1" height="13.25" fill="#fff" opacity="0.25"/>
<rect x="694.30" y="478.50" width="1.2" height="13.25" fill="#000" opacity="0.3"/>
<text x="667.00" y="487.50" font-size="7.5" fill="#ffffff" font-weight="normal" textLength="7.25" lengthAdjust="spacingAndGlyphs"  >P2</text>
<rect x="696.75" y="478.50" width="13.25" height="13.25" fill="url(#g24)" />
<rect x="696.75" y="478.50" width="1" height="13.25" fill="#fff" opacity="0.25"/>
<rect x="708.80" y="478.50" width="1.2" height="13.25" fill="#000" opacity="0.3"/>
<text x="697.00" y="487.86" font-size="8.5" fill="#ffffff" font-weight="normal" textLength="12.75" lengthAdjust="spacingAndGlyphs"  >DP2</text>
<rect x="712.00" y="478.50" width="24.50" height="13.25" fill="url(#g25)" />
<rect x="712.00" y="478.50" width="1" height="13.25" fill="#fff" opacity="0.25"/>
<rect x="735.30" y="478.50" width="1.2" height="13.25" fill="#000" opacity="0.3"/>
<line x1="712.00" y1="480.71" x2="736.50" y2="480.71" stroke="#74528d" stroke-width="0.6" opacity="0.7"/>
<line x1="712.00" y1="482.92" x2="736.50" y2="482.92" stroke="#74528d" stroke-width="0.6" opacity="0.7"/>
<line x1="712.00" y1="485.12" x2="736.50" y2="485.12" stroke="#74528d" stroke-width="0.6" opacity="0.7"/>
<line x1="712.00" y1="487.33" x2="736.50" y2="487.33" stroke="#74528d" stroke-width="0.6" opacity="0.7"/>
<line x1="712.00" y1="489.54" x2="736.50" y2="489.54" stroke="#74528d" stroke-width="0.6" opacity="0.7"/>
<text x="720.00" y="487.50" font-size="7.5" fill="#ffffff" font-weight="normal" textLength="8.75" lengthAdjust="spacingAndGlyphs"  >IFS</text>
<rect x="738.75" y="478.50" width="25.25" height="13.25" fill="url(#g25)" />
<rect x="738.75" y="478.50" width="1" height="13.25" fill="#fff" opacity="0.25"/>
<rect x="762.80" y="478.50" width="1.2" height="13.25" fill="#000" opacity="0.3"/>
<line x1="738.75" y1="480.71" x2="764.00" y2="480.71" stroke="#74528d" stroke-width="0.6" opacity="0.7"/>
<line x1="738.75" y1="482.92" x2="764.00" y2="482.92" stroke="#74528d" stroke-width="0.6" opacity="0.7"/>
<line x1="738.75" y1="485.12" x2="764.00" y2="485.12" stroke="#74528d" stroke-width="0.6" opacity="0.7"/>
<line x1="738.75" y1="487.33" x2="764.00" y2="487.33" stroke="#74528d" stroke-width="0.6" opacity="0.7"/>
<line x1="738.75" y1="489.54" x2="764.00" y2="489.54" stroke="#74528d" stroke-width="0.6" opacity="0.7"/>
<text x="745.50" y="487.50" font-size="7.5" fill="#ffffff" font-weight="normal" textLength="10.75" lengthAdjust="spacingAndGlyphs"  >GIA</text>
<rect x="474.10" y="509.00" width="143.90" height="13.50" fill="#76b792" />
<rect x="474.10" y="521.60" width="143.90" height="0.90" fill="#63a680" />
<rect x="618.50" y="530.50" width="137.25" height="13.25" fill="url(#g26)" />
<rect x="618.50" y="530.50" width="1" height="13.25" fill="#fff" opacity="0.25"/>
<rect x="754.55" y="530.50" width="1.2" height="13.25" fill="#000" opacity="0.3"/>
<text x="666.25" y="539.50" font-size="7.5" fill="#ffffff" font-weight="normal" textLength="40.75" lengthAdjust="spacingAndGlyphs"  >Open Season</text>
<rect x="757.75" y="530.50" width="13.00" height="13.25" fill="url(#g27)" />
<rect x="757.75" y="530.50" width="1" height="13.25" fill="#fff" opacity="0.25"/>
<rect x="769.55" y="530.50" width="1.2" height="13.25" fill="#000" opacity="0.3"/>
<text x="757.75" y="539.86" font-size="8.5" fill="#ffffff" font-weight="normal" textLength="12.50" lengthAdjust="spacingAndGlyphs"  >DRP</text>
<rect x="772.75" y="530.50" width="25.00" height="13.25" fill="url(#g26)" />
<rect x="772.75" y="530.50" width="1" height="13.25" fill="#fff" opacity="0.25"/>
<rect x="796.55" y="530.50" width="1.2" height="13.25" fill="#000" opacity="0.3"/>
<text x="781.25" y="539.50" font-size="7.5" fill="#ffffff" font-weight="normal" textLength="7.50" lengthAdjust="spacingAndGlyphs"  >P1</text>
<text x="375.00" y="513.75" font-size="11" fill="#333" font-weight="normal" textLength="82.00" lengthAdjust="spacingAndGlyphs" stroke="#333" stroke-width="0.3" >Compliance Filing</text>
<text x="426.25" y="527.50" font-size="11" fill="#333" font-weight="normal" textLength="30.75" lengthAdjust="spacingAndGlyphs" stroke="#333" stroke-width="0.3" >4/3/23</text>
<text x="448.75" y="543.75" font-size="11" fill="#333" font-weight="normal" textLength="161.25" lengthAdjust="spacingAndGlyphs" stroke="#333" stroke-width="0.3" >Submission Requirements Effective</text>
<text x="580.00" y="558.00" font-size="11" fill="#333" font-weight="normal" textLength="30.00" lengthAdjust="spacingAndGlyphs" stroke="#333" stroke-width="0.3" >1/1/25</text>
<polygon points="466.40,509.20 468.49,513.72 472.90,514.59 469.78,518.25 470.42,523.30 466.40,521.05 462.38,523.30 463.02,518.25 459.90,514.59 464.31,513.72" fill="#fff000" stroke="#1c1c3c" stroke-width="1.0" stroke-linejoin="miter"/>
<polygon points="617.30,530.60 619.39,535.12 623.80,535.99 620.68,539.65 621.32,544.70 617.30,542.45 613.28,544.70 613.92,539.65 610.80,535.99 615.21,535.12" fill="#fff000" stroke="#1c1c3c" stroke-width="1.0" stroke-linejoin="miter"/>
<text x="266.00" y="133.42" font-size="9.5" fill="#6a6a6a" font-weight="normal" textLength="34.00" lengthAdjust="spacingAndGlyphs" stroke="#6a6a6a" stroke-width="0.3" >1702 DP2</text>
<text x="393.75" y="133.42" font-size="9.5" fill="#6a6a6a" font-weight="normal" textLength="128.00" lengthAdjust="spacingAndGlyphs" stroke="#6a6a6a" stroke-width="0.3" >1702 FS POI and Network (old tariff)</text>
<text x="320.00" y="149.42" font-size="9.5" fill="#6a6a6a" font-weight="normal" textLength="47.00" lengthAdjust="spacingAndGlyphs" stroke="#6a6a6a" stroke-width="0.3" >1702 Restudy</text>
<text x="418.25" y="172.92" font-size="9.5" fill="#2b2b2b" font-weight="normal" textLength="28.50" lengthAdjust="spacingAndGlyphs" stroke="#2b2b2b" stroke-width="0.3" >Restudy</text>
<text x="450.00" y="187.92" font-size="9.5" fill="#2b2b2b" font-weight="normal" textLength="46.25" lengthAdjust="spacingAndGlyphs" stroke="#2b2b2b" stroke-width="0.3" >Facility Study</text>
<text x="296.25" y="225.42" font-size="9.5" fill="#2b2b2b" font-weight="normal" textLength="39.50" lengthAdjust="spacingAndGlyphs" stroke="#2b2b2b" stroke-width="0.3" >DP1 +10BD</text>
<text x="418.25" y="225.42" font-size="9.5" fill="#2b2b2b" font-weight="normal" textLength="13.50" lengthAdjust="spacingAndGlyphs" stroke="#2b2b2b" stroke-width="0.3" >DP2</text>
<text x="459.25" y="225.42" font-size="9.5" fill="#2b2b2b" font-weight="normal" textLength="28.25" lengthAdjust="spacingAndGlyphs" stroke="#2b2b2b" stroke-width="0.3" >Restudy</text>
<text x="490.00" y="240.22" font-size="9.5" fill="#2b2b2b" font-weight="normal" textLength="46.25" lengthAdjust="spacingAndGlyphs" stroke="#2b2b2b" stroke-width="0.3" >Facility Study</text>
<text x="350.50" y="277.72" font-size="9.5" fill="#2b2b2b" font-weight="normal" textLength="13.25" lengthAdjust="spacingAndGlyphs" stroke="#2b2b2b" stroke-width="0.3" >DP1</text>
<text x="479.50" y="277.72" font-size="9.5" fill="#2b2b2b" font-weight="normal" textLength="13.00" lengthAdjust="spacingAndGlyphs" stroke="#2b2b2b" stroke-width="0.3" >DP2</text>
<text x="520.00" y="277.18" font-size="8" fill="#2b2b2b" font-weight="normal" textLength="24.50" lengthAdjust="spacingAndGlyphs" stroke="#2b2b2b" stroke-width="0.2" >Restudy</text>
<text x="552.00" y="292.52" font-size="9.5" fill="#2b2b2b" font-weight="normal" textLength="46.25" lengthAdjust="spacingAndGlyphs" stroke="#2b2b2b" stroke-width="0.3" >Facility Study</text>
<text x="393.25" y="329.92" font-size="9.5" fill="#2b2b2b" font-weight="normal" textLength="13.50" lengthAdjust="spacingAndGlyphs" stroke="#2b2b2b" stroke-width="0.3" >DP1</text>
<text x="539.50" y="329.92" font-size="9.5" fill="#2b2b2b" font-weight="normal" textLength="13.50" lengthAdjust="spacingAndGlyphs" stroke="#2b2b2b" stroke-width="0.3" >DP2</text>
<text x="608.00" y="329.92" font-size="9.5" fill="#2b2b2b" font-weight="normal" textLength="27.75" lengthAdjust="spacingAndGlyphs" stroke="#2b2b2b" stroke-width="0.3" >Restudy</text>
<text x="611.75" y="344.72" font-size="9.5" fill="#2b2b2b" font-weight="normal" textLength="44.50" lengthAdjust="spacingAndGlyphs" stroke="#2b2b2b" stroke-width="0.3" >Facility Study</text>
<text x="428.00" y="382.42" font-size="9.5" fill="#2b2b2b" font-weight="normal" textLength="13.25" lengthAdjust="spacingAndGlyphs" stroke="#2b2b2b" stroke-width="0.3" >DP1</text>
<text x="600.00" y="382.42" font-size="9.5" fill="#2b2b2b" font-weight="normal" textLength="12.50" lengthAdjust="spacingAndGlyphs" stroke="#2b2b2b" stroke-width="0.3" >DP2</text>
<text x="673.00" y="381.88" font-size="8" fill="#2b2b2b" font-weight="normal" textLength="24.50" lengthAdjust="spacingAndGlyphs" stroke="#2b2b2b" stroke-width="0.2" >Restudy</text>
<text x="673.00" y="397.22" font-size="9.5" fill="#2b2b2b" font-weight="normal" textLength="45.75" lengthAdjust="spacingAndGlyphs" stroke="#2b2b2b" stroke-width="0.3" >Facility Study</text>
<text x="463.25" y="435.22" font-size="9.5" fill="#2b2b2b" font-weight="normal" textLength="13.50" lengthAdjust="spacingAndGlyphs" stroke="#2b2b2b" stroke-width="0.3" >DP1</text>
<text x="659.00" y="434.70" font-size="7.5" fill="#2b2b2b" font-weight="normal" textLength="12.20" lengthAdjust="spacingAndGlyphs" stroke="#2b2b2b" stroke-width="0.2" >DP2</text>
<text x="727.50" y="433.22" font-size="8.4" fill="#2b2b2b" font-weight="normal" textLength="24.50" lengthAdjust="spacingAndGlyphs" stroke="#2b2b2b" stroke-width="0.2" >Restudy</text>
<text x="733.00" y="450.21" font-size="11" fill="#2b2b2b" font-weight="normal" textLength="50.75" lengthAdjust="spacingAndGlyphs" stroke="#2b2b2b" stroke-width="0.3" >Facility Study</text>
<text x="515.00" y="519.62" font-size="9.5" fill="#2e3a33" font-weight="normal" textLength="61.00" lengthAdjust="spacingAndGlyphs" stroke="#2e3a33" stroke-width="0.3" >Implementation</text>
<line x1="2.5" y1="157" x2="782.5" y2="157" stroke="#111" stroke-width="2.3" stroke-dasharray="8.25 5.8"/>
<line x1="2.5" y1="472.5" x2="782.5" y2="472.5" stroke="#111" stroke-width="2.3" stroke-dasharray="8.25 5.8"/>
<line x1="2.5" y1="505.5" x2="782.5" y2="505.5" stroke="#111" stroke-width="2.3" stroke-dasharray="8.25 5.8"/>
<line x1="691.75" y1="219" x2="525" y2="318" stroke="#c8202f" stroke-width="3" marker-end="url(#ah)"/>
<line x1="691.75" y1="219" x2="607" y2="315" stroke="#c8202f" stroke-width="3" marker-end="url(#ah)"/>
<line x1="691.75" y1="219" x2="586.25" y2="367.5" stroke="#c8202f" stroke-width="3" marker-end="url(#ah)"/>
<line x1="691.75" y1="219" x2="661.25" y2="368" stroke="#c8202f" stroke-width="3" marker-end="url(#ah)"/>
<line x1="691.75" y1="219" x2="637.5" y2="422.5" stroke="#c8202f" stroke-width="3" marker-end="url(#ah)"/>
<line x1="691.75" y1="219" x2="719.5" y2="422" stroke="#c8202f" stroke-width="3" marker-end="url(#ah)"/>
<path d="M685 202 L691.4 216.6 L708.5 202 Z" fill="#c8202f" stroke="#3a1015" stroke-width="0.8"/>
<ellipse cx="723.75" cy="172" rx="78.75" ry="35" fill="#c8202f" stroke="#3a1015" stroke-width="0.8"/>
<path d="M685.8 201 L691.4 215.4 L707.3 201 Z" fill="#c8202f"/>
<text x="686.00" y="162.50" font-size="12.4" fill="#fff" font-weight="bold" textLength="72.70" lengthAdjust="spacingAndGlyphs" stroke="#fff" stroke-width="0.2" >592 Potential</text>
<text x="686.00" y="177.90" font-size="12.4" fill="#fff" font-weight="bold" textLength="87.00" lengthAdjust="spacingAndGlyphs" stroke="#fff" stroke-width="0.2" >longer Phase 2s</text>
<text x="686.00" y="193.30" font-size="12.4" fill="#fff" font-weight="bold" textLength="76.00" lengthAdjust="spacingAndGlyphs" stroke="#fff" stroke-width="0.2" >and Restudies</text>
<text x="0.50" y="571.50" font-size="8" fill="#222" font-weight="normal" textLength="319.50" lengthAdjust="spacingAndGlyphs"  >Restudy based on higher queued withdrawal; information is provided for planning purposes</text>
</svg>
</body></html>
